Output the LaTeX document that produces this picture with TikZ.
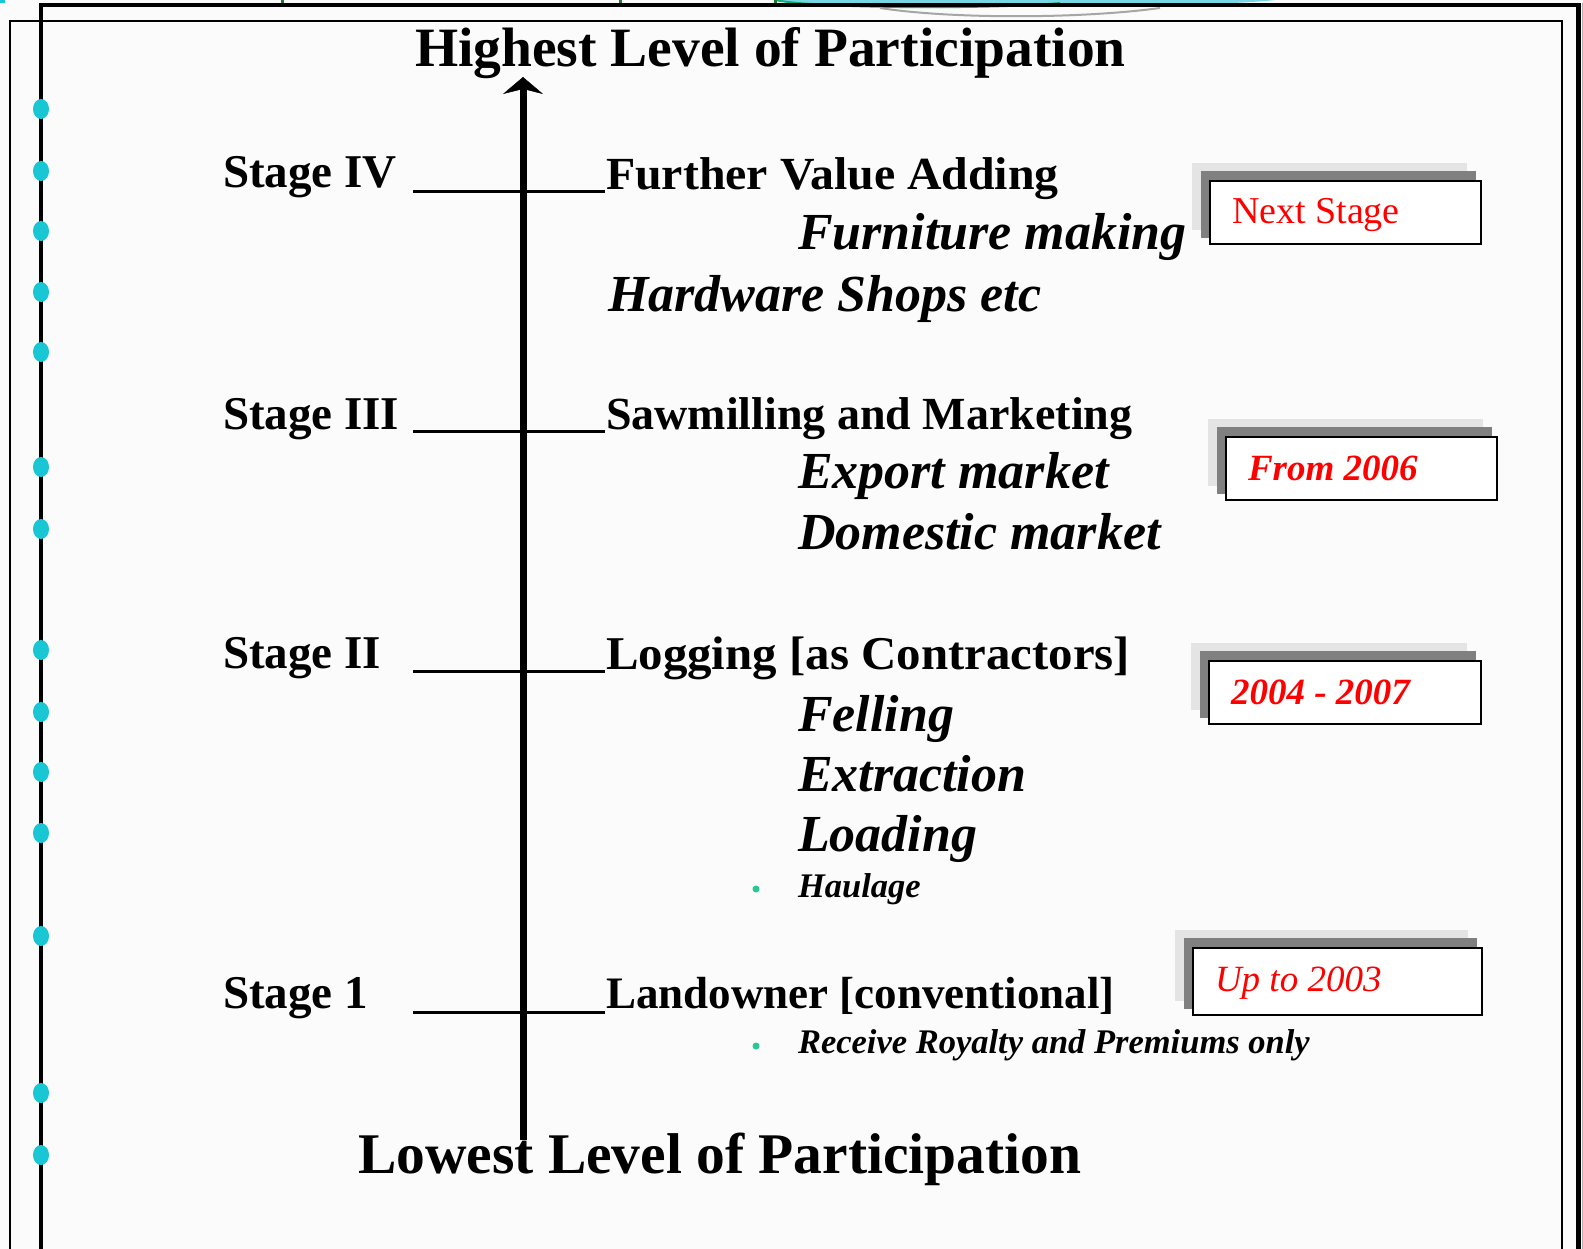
\documentclass[tikz,border=0pt]{standalone}
\usepackage{fontspec}
\setmainfont{Liberation Serif}
\newfontfamily\widebold[FakeStretch=1.04]{Liberation Serif}
\usetikzlibrary{arrows.meta}

\definecolor{paper}{RGB}{251,251,251}
\definecolor{dotcyan}{RGB}{24,198,212}
\definecolor{bulletgreen}{RGB}{38,200,150}
\definecolor{shadelight}{RGB}{228,228,228}
\definecolor{shadedark}{RGB}{128,128,128}
\definecolor{topgreen}{RGB}{30,120,50}
\definecolor{toptealfill}{RGB}{120,214,228}
\definecolor{toptealline}{RGB}{20,170,120}

% a dated tag: light and dark offset shadows behind a white framed box
% #1 node name, #2,#3 top-left corner, #4,#5 bottom-right corner, #6 text
\newcommand\datetag[6]{%
  \fill[shadelight] (#2-18,#3-18) rectangle (#4-14,#5-14);
  \fill[shadedark]  (#2-9,#3-10)  rectangle (#4-5,#5-6);
  \draw[tagframe]   (#2,#3) rectangle (#4,#5);
  \node[tagtext] (#1) at (#2+22,#3+43) {#6};
}

\begin{document}
\begin{tikzpicture}[x=1pt,y=-1pt,
  base/.style={anchor=base west, inner sep=0pt, outer sep=0pt},
  heading/.style={base, font=\fontsize{55.5}{60}\selectfont\bfseries},
  stagelab/.style={base, font=\fontsize{47}{50}\selectfont\bfseries},
  itemhead/.style={base, font=\fontsize{46}{50}\selectfont\bfseries},
  itemsub/.style={base, font=\fontsize{52}{55}\selectfont\bfseries\itshape},
  itemsmall/.style={base, font=\fontsize{34.5}{36}\selectfont\bfseries\itshape},
  tagtext/.style={base, text=red},
  tagframe/.style={draw=black, fill=white, line width=2.5pt},
  tick/.style={line width=3pt},
  leftdot/.style={fill=dotcyan},
  bulletdot/.style={circle, fill=bulletgreen, inner sep=0pt, minimum size=7pt},
]
\useasboundingbox (0,0) rectangle (1583,1249);
\fill[paper] (0,0) rectangle (1583,1249);

% remnants of the heading band along the top edge
\fill[dotcyan] (0,0) rectangle (5,3);
\fill[toptealfill] (775,0) .. controls (820,9) and (1200,9) .. (1275,0) -- cycle;
\draw[toptealline, line width=2pt] (775,0) .. controls (820,9) and (1000,9) .. (1060,3);
\draw[gray!70, line width=2pt] (880,8) .. controls (950,19) and (1080,19) .. (1160,8);
\foreach \gx in {282,620,775} \draw[topgreen, line width=3pt] (\gx,0) -- (\gx,6);

% inner thin frame
\draw[line width=2.2pt] (10,1249) -- (10,21) -- (1562,21) -- (1562,1249);
% outer heavy frame
\draw[line width=4pt] (41,1249) -- (41,5) -- (1578,5);
\draw[line width=5pt] (1578,3) -- (1578,1249);
\draw[gray!60, line width=1pt] (1582,3) -- (1582,1249);

% bullets on the left rule
\foreach \dy in {109,171,231,292,352,467,529,650,712,772,833,936,1093,1155}
  \fill[leftdot] (41,\dy) ellipse [x radius=8, y radius=10];

% vertical participation axis
\coordinate (axisbot) at (523,1140);
\coordinate (axistop) at (523,77);
\draw[line width=7pt, -{Stealth[length=17pt, width=40pt, inset=5pt, line width=0.5pt]}]
  (axisbot) -- (axistop);

% end labels
\node[heading] (hi) at (415,67) {Highest Level of Participation};
\node[heading, font=\fontsize{57.5}{60}\selectfont\bfseries] (lo) at (358,1173) {Lowest Level of Participation};

% Stage IV
\node[stagelab] (st4) at (223,188) {Stage IV};
\coordinate (t4l) at (413,192); \coordinate (t4r) at (605,192);
\draw[tick] (t4l) -- (t4r);
\node[itemhead, font=\fontsize{46}{50}\selectfont\widebold\bfseries] (it4) at (606,190) {Further Value Adding};
\node[itemsub] (it4a) at (798,250) {Furniture making};
\node[itemsub] (it4b) at (608,312) {Hardware Shops etc};

% Stage III
\node[stagelab] (st3) at (223,429) {Stage III};
\coordinate (t3l) at (413,431); \coordinate (t3r) at (605,431);
\draw[tick] (t3l) -- (t3r);
\node[itemhead] (it3) at (606,429) {Sawmilling and Marketing};
\node[itemsub] (it3a) at (798,488) {Export market};
\node[itemsub] (it3b) at (798,549) {Domestic market};

% Stage II
\node[stagelab] (st2) at (223,668) {Stage II};
\coordinate (t2l) at (413,671); \coordinate (t2r) at (605,671);
\draw[tick] (t2l) -- (t2r);
\node[itemhead, font=\fontsize{47}{50}\selectfont\widebold\bfseries] (it2) at (606,669) {Logging [as Contractors]};
\node[itemsub] (it2a) at (798,731) {Felling};
\node[itemsub] (it2b) at (798,791) {Extraction};
\node[itemsub] (it2c) at (798,851) {Loading};
\node[bulletdot] (b2) at (756,889) {};
\node[itemsmall] (it2d) at (798,897) {Haulage};

% Stage 1
\node[stagelab] (st1) at (223,1008) {Stage 1};
\coordinate (t1l) at (413,1012); \coordinate (t1r) at (605,1012);
\draw[tick] (t1l) -- (t1r);
\node[itemhead, font=\fontsize{45}{50}\selectfont\bfseries] (it1) at (606,1008) {Landowner [conventional]};
\node[bulletdot] (b1) at (756,1046) {};
\node[itemsmall] (it1a) at (798,1053) {Receive Royalty and Premiums only};

% period tags
\datetag{tag4}{1210}{181}{1481}{244}{\fontsize{38}{40}\selectfont Next Stage}
\datetag{tag3}{1226}{437}{1497}{500}{\fontsize{37}{40}\selectfont\bfseries\itshape From 2006}
\datetag{tag2}{1209}{661}{1481}{724}{\fontsize{37}{40}\selectfont\bfseries\itshape 2004 - 2007}
\datetag{tag1}{1193}{948}{1482}{1015}{\fontsize{37}{40}\selectfont\itshape Up to 2003}
\end{tikzpicture}
\end{document}
